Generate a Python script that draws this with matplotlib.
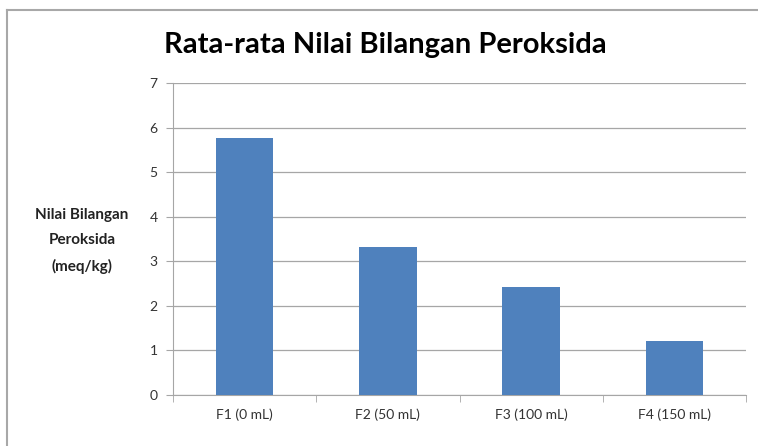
import matplotlib.pyplot as plt
from matplotlib.lines import Line2D

categories = ["F1 (0 mL)", "F2 (50 mL)", "F3 (100 mL)", "F4 (150 mL)"]
values = [5.76, 3.33, 2.42, 1.21]
y_ticks = [0, 1, 2, 3, 4, 5, 6, 7]

plt.rcParams["font.family"] = ["Lato", "DejaVu Sans"]

fig = plt.figure(figsize=(7.58, 4.46), dpi=100)
ax = fig.add_axes([173 / 758, 51 / 446, 573 / 758, 312 / 446])

x = list(range(len(categories)))
ax.bar(x, values, width=0.4, color="#4F81BD", zorder=3)

ax.set_xlim(-0.5, len(categories) - 0.5)
ax.set_ylim(0, 7)
ax.set_yticks(y_ticks)
ax.set_yticklabels([str(t) for t in y_ticks], fontsize=10, color="#333333")
ax.yaxis.grid(True, color="#A6A6A6", linewidth=0.9, zorder=0)

# category labels centred, tick marks on the boundaries
ax.set_xticks(x)
ax.set_xticklabels(categories, fontsize=10, color="#333333")
ax.tick_params(axis="x", length=0, pad=10)
ax.set_xticks([i - 0.5 for i in range(len(categories) + 1)], minor=True)
ax.tick_params(axis="x", which="minor", length=5, color="#A6A6A6", direction="out")
ax.tick_params(axis="y", length=5, color="#A6A6A6", pad=6)

for side in ["top", "right"]:
    ax.spines[side].set_visible(False)
for side in ["left", "bottom"]:
    ax.spines[side].set_color("#A6A6A6")

fig.text(385 / 758, 1 - 45 / 446, "Rata-rata Nilai Bilangan Peroksida",
         ha="center", va="center", fontsize=21, fontweight="bold")
fig.text(82 / 758, 1 - 241 / 446, "Nilai Bilangan\nPeroksida\n(meq/kg)",
         ha="center", va="center", fontsize=11, fontweight="bold",
         color="#222222", linespacing=2.0)

# chart frame: only top and left edges fall inside the picture
fx = 7 / 758
fy = 1 - 10 / 446
fig.lines.append(Line2D([fx, 1], [fy, fy], transform=fig.transFigure,
                        color="#A8A8A8", linewidth=1.5))
fig.lines.append(Line2D([fx, fx], [0, fy], transform=fig.transFigure,
                        color="#A8A8A8", linewidth=1.5))

fig.savefig("out.png", dpi=100)
plt.close(fig)
